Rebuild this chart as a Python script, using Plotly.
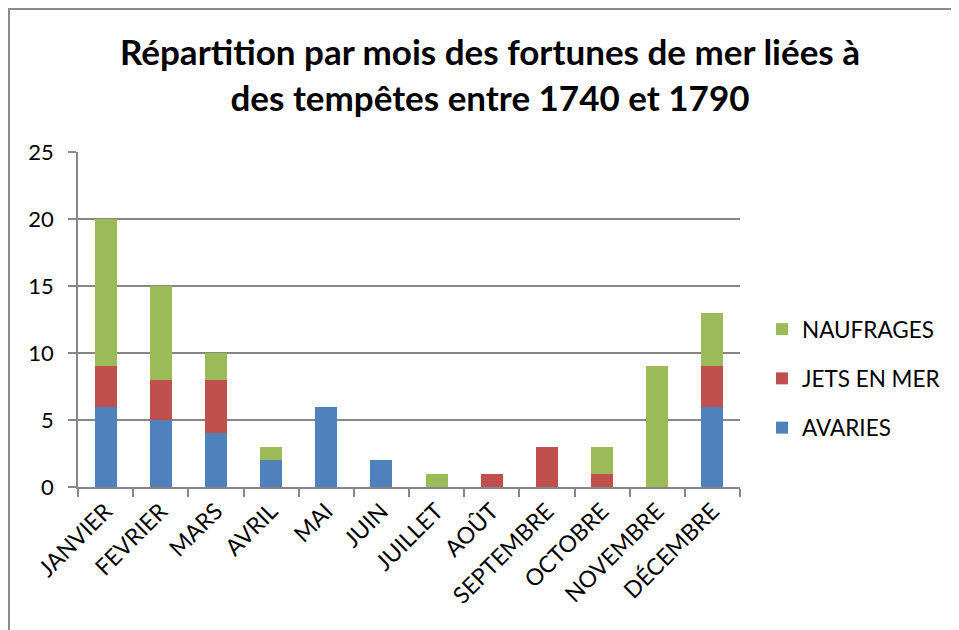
import plotly.graph_objects as go

months = ["JANVIER", "FEVRIER", "MARS", "AVRIL", "MAI", "JUIN", "JUILLET",
          "AOÛT", "SEPTEMBRE", "OCTOBRE", "NOVEMBRE", "DÉCEMBRE"]
avaries = [6, 5, 4, 2, 6, 2, 0, 0, 0, 0, 0, 6]
jets_en_mer = [3, 3, 4, 0, 0, 0, 0, 1, 3, 1, 0, 3]
naufrages = [11, 7, 2, 1, 0, 0, 1, 0, 0, 2, 9, 4]

series = [("AVARIES", avaries, "#4F81BD", 3),
          ("JETS EN MER", jets_en_mer, "#C0504D", 2),
          ("NAUFRAGES", naufrages, "#9BBB59", 1)]

FONT = "Lato, 'Open Sans', sans-serif"
GRID = "#868686"
OFF = 8  # page body margin

fig = go.Figure()
for name, vals, col, rank in series:
    fig.add_trace(go.Bar(x=months, y=vals, name=name, marker_color=col,
                         marker_line_width=0, legendgroup=name,
                         legendrank=rank, width=0.4))

W, H = 959 - OFF, 630 - OFF
L, R, T, B = 78 - OFF, 740 - OFF, 152 - OFF, 487 - OFF
pw, ph = R - L, B - T

def px(x):
    return (x - OFF - L) / pw

def py(y):
    return (B - (y - OFF)) / ph

fig.update_layout(
    width=W, height=H,
    margin=dict(l=L, r=W - R, t=T, b=H - B, autoexpand=False),
    paper_bgcolor="white", plot_bgcolor="white",
    barmode="stack",
    title=dict(text="<b>Répartition par mois des fortunes de mer liées à<br>des tempêtes entre 1740 et 1790</b>",
               x=(490 - OFF) / W, xanchor="center", y=1 - 57 / H, yanchor="top",
               font=dict(family=FONT, size=35, color="black")),
    font=dict(family=FONT, color="black"),
    showlegend=True,
    legend=dict(x=px(762), y=py(308), xanchor="left", yanchor="top",
                traceorder="grouped", tracegroupgap=17,
                font=dict(size=22.5, color="black"), itemwidth=30,
                bgcolor="rgba(0,0,0,0)"),
    xaxis=dict(tickangle=-45, tickfont=dict(size=23, color="black"),
               showline=True, linecolor=GRID, linewidth=1.5,
               ticks="outside", tickson="boundaries", ticklen=8,
               tickcolor=GRID, tickwidth=1.5, showgrid=False),
    yaxis=dict(range=[0, 25], dtick=5, tickfont=dict(size=22, color="black"),
               showline=True, linecolor=GRID, linewidth=1.5,
               ticks="outside", ticklen=8, tickcolor=GRID, tickwidth=1.5,
               showgrid=True, gridcolor=GRID, gridwidth=1.5,
               zeroline=False, ticklabelstandoff=10),
    shapes=[
        dict(type="line", xref="paper", yref="paper",
             x0=px(8), x1=px(970), y0=py(9), y1=py(9),
             line=dict(color="#8c8c8c", width=2)),
        dict(type="line", xref="paper", yref="paper",
             x0=px(9), x1=px(9), y0=py(8), y1=py(640),
             line=dict(color="#8c8c8c", width=2)),
    ],
)

fig.write_html("out.html")
